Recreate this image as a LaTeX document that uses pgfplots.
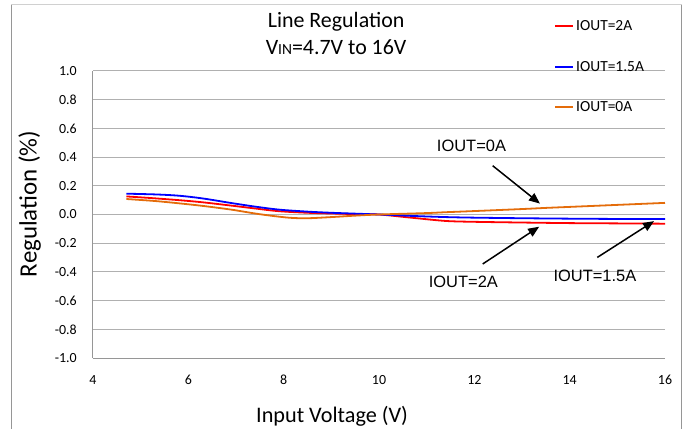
\documentclass[border=0pt]{standalone}
\usepackage{pgfplots}
\pgfplotsset{compat=1.18}
\usetikzlibrary{arrows.meta}
\usepackage{fontspec}
\setmainfont{Carlito}
\newfontfamily\arialfont{Liberation Sans}
\definecolor{gridgray}{RGB}{176,176,176}
\definecolor{axgray}{RGB}{150,150,150}
\definecolor{xlorange}{RGB}{228,108,10}
\begin{document}
\begin{tikzpicture}
\useasboundingbox (-93bp,-71bp) rectangle (596bp,358bp);
\draw[color=axgray, line width=1bp] (-81.7bp,-75bp) -- (-81.7bp,353bp);
\draw[color=axgray, line width=1bp] (588.7bp,-75bp) -- (588.7bp,353bp);
\draw[color=gridgray!60, line width=1bp] (-81.7bp,353bp) -- (588.7bp,353bp);
\begin{axis}[
  at={(0,0)}, anchor=south west,
  scale only axis, width=572bp, height=287bp,
  xmin=4, xmax=16, ymin=-1, ymax=1,
  xtick={4,6,...,16}, ytick={-1,-0.8,...,1.01},
  axis line style={draw=none},
  major tick length=0pt,
  ymajorgrids, grid style={color=gridgray, line width=1bp},
  /pgf/number format/assume math mode=true,
  xticklabel={\pgfmathprintnumber{\tick}},
  yticklabel={\pgfmathprintnumber[fixed,fixed zerofill,precision=1]{\tick}},
  xticklabel style={font=\fontsize{14}{16}\selectfont, anchor=north, inner sep=0pt, yshift=-17bp},
  yticklabel style={font=\fontsize{14}{16}\selectfont, anchor=east, inner sep=0pt, xshift=-16bp},
  xlabel={Input Voltage (V)},
  xlabel style={at={(axis description cs:0.418,-0.224)}, anchor=base, font=\fontsize{22.3}{25}\selectfont},
  ylabel={Regulation (\%)},
  ylabel style={at={(axis description cs:-0.0984,0.537)}, anchor=base, font=\fontsize{25}{28}\selectfont},
  legend style={at={(axis description cs:0.806,1.183)}, anchor=north west, draw=none, fill=none,
    font=\fontsize{15.5}{17}\selectfont, row sep=25bp, inner sep=0pt,
    /tikz/every even column/.append style={column sep=0bp}},
  legend cell align=left,
  legend image code/.code={\draw[#1, line width=2bp] (-2bp,0bp) -- (16bp,0bp);},
  clip=false,
]
\draw[color=axgray, line width=1bp] (axis cs:4,-1) -- (axis cs:4,1);
\draw[color=axgray, line width=1bp] (axis cs:4,-1) -- (axis cs:16,-1);
\addplot[red, line width=1.8bp, smooth, no markers] coordinates {
(4.7,0.126) (5.2,0.115) (5.8,0.100) (6.3,0.085) (6.9,0.062) (7.4,0.042) (7.9,0.023)
(8.5,0.012) (9,0.007) (9.5,0.003) (10,0) (10.7,-0.023) (11.4,-0.045) (12,-0.051)
(13,-0.056) (14,-0.060) (15,-0.062) (16,-0.064)};
\addlegendentry{IOUT=2A}
\addplot[blue, line width=1.8bp, smooth, no markers] coordinates {
(4.7,0.145) (5.3,0.140) (5.8,0.131) (6.3,0.112) (6.9,0.080) (7.4,0.055) (7.9,0.034)
(8.5,0.020) (9,0.012) (9.5,0.006) (10,0) (10.7,-0.010) (11.4,-0.018) (12,-0.022)
(13,-0.026) (14,-0.029) (15,-0.031) (16,-0.032)};
\addlegendentry{IOUT=1.5A}
\addplot[xlorange, line width=1.8bp, smooth, no markers] coordinates {
(4.7,0.108) (5.3,0.094) (5.8,0.078) (6.3,0.060) (6.9,0.034) (7.5,0.002) (8.1,-0.022)
(8.5,-0.026) (9,-0.018) (9.5,-0.008) (10,0) (11,0.010) (11.4,0.016) (12,0.024)
(13,0.038) (13.5,0.046) (14,0.053) (15,0.067) (16,0.081)};
\addlegendentry{IOUT=0A}
\node[font=\fontsize{22}{25}\selectfont] at (axis description cs:0.425,1.171) {Line Regulation};
\node[font=\fontsize{22}{25}\selectfont] at (axis description cs:0.425,1.084) {V{\fontsize{15.5}{17}\selectfont IN}=4.7V to 16V};
\draw[-{Triangle[length=11bp,width=9bp]}, line width=1.5bp] (axis cs:12.385,0.34) -- (axis cs:13.377,0.076);
\draw[-{Triangle[length=11bp,width=9bp]}, line width=1.5bp] (axis cs:12.175,-0.345) -- (axis cs:13.36,-0.085);
\draw[-{Triangle[length=11bp,width=9bp]}, line width=1.5bp] (axis cs:14.58,-0.299) -- (axis cs:15.77,-0.046);
\node[font=\arialfont\fontsize{16.5}{18}\selectfont] at (axis cs:11.94,0.476) {IOUT=0A};
\node[font=\arialfont\fontsize{16.5}{18}\selectfont] at (axis cs:11.77,-0.471) {IOUT=2A};
\node[font=\arialfont\fontsize{16.5}{18}\selectfont] at (axis cs:14.53,-0.43) {IOUT=1.5A};
\end{axis}
\end{tikzpicture}
\end{document}
